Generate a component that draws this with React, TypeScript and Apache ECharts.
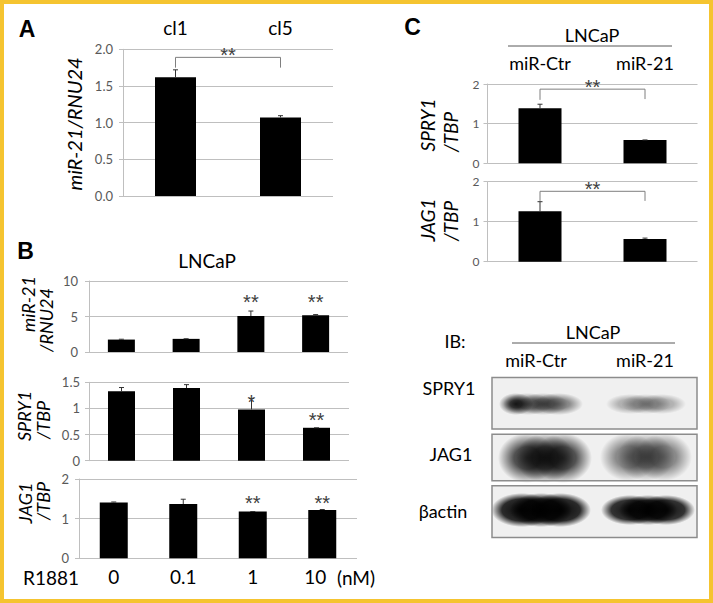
import React, { useEffect, useRef } from "react";
import * as echarts from "echarts";

// ---------- data ----------
const aCategories = ["cl1", "cl5"];
const aValues = [1.62, 1.07];
const aErrors = [0.1, 0.025];
const aBracket = [1.75, 1.89, 1.75]; // left leg end, bar height, right leg end

const bCategories = ["0", "0.1", "1", "10"];
const bMir21 = [1.75, 1.85, 5.07, 5.17];
const bMir21Err = [0.05, 0.02, 0.7, 0.1];
const bMir21Sig = ["", "", "**", "**"];
const bMir21SigAt = [0, 0, 7.8, 7.8];

const bSpry1 = [1.33, 1.39, 0.98, 0.63];
const bSpry1Err = [0.07, 0.065, 0.21, 0.0];
const bSpry1Sig = ["", "", "*", "**"];
const bSpry1SigAt = [0, 0, 1.22, 0.87];

const bJag1 = [1.41, 1.37, 1.18, 1.22];
const bJag1Err = [0.01, 0.12, 0.0, 0.01];
const bJag1Sig = ["", "", "**", "**"];
const bJag1SigAt = [0, 0, 1.53, 1.53];

const cCategories = ["miR-Ctr", "miR-21"];
const cSpry1 = [1.39, 0.59];
const cSpry1Err = [0.1, 0.0];
const cSpry1Bracket = [1.6, 1.87, 1.62];
const cJag1 = [1.26, 0.57];
const cJag1Err = [0.24, 0.02];
const cJag1Bracket = [1.52, 1.76, 1.52];

// ---------- styling ----------
const FONT = 'Lato, "Open Sans", sans-serif';
const BOLD_FONT = '"Liberation Sans", Arial, sans-serif';
const STAR_FONT = '"Liberation Sans", Arial, sans-serif';
const GRID_GRAY = "#bfbfbf";
const TICK_LABEL = "#595959";

function yAxis(gridIndex: number, max: number, interval: number, fontSize: number, margin: number, fmt?: (v: number) => string) {
  return {
    type: "value",
    gridIndex,
    min: 0,
    max,
    interval,
    axisLine: { show: true, lineStyle: { color: GRID_GRAY, width: 1 } },
    axisTick: { show: true, length: 4, lineStyle: { color: GRID_GRAY } },
    splitLine: { show: true, lineStyle: { color: GRID_GRAY, width: 1 } },
    axisLabel: { fontSize, color: TICK_LABEL, fontFamily: FONT, margin, formatter: fmt },
  };
}

function xAxis(gridIndex: number, data: string[], label?: any) {
  return {
    type: "category",
    gridIndex,
    data,
    position: label ? label.position : "bottom",
    axisLine: { show: false },
    axisTick: { show: false },
    splitLine: { show: false },
    axisLabel: label
      ? {
          show: true,
          fontSize: label.fontSize,
          color: "#000",
          fontFamily: FONT,
          margin: label.margin,
          interval: 0,
          formatter: label.formatter,
          rich: label.rich,
        }
      : { show: false },
  };
}

function bars(idx: number, data: number[], barWidth: number) {
  return {
    type: "bar",
    xAxisIndex: idx,
    yAxisIndex: idx,
    data,
    barWidth,
    itemStyle: { color: "#000" },
    z: 2,
  };
}

function errorBars(idx: number, values: number[], errors: number[]) {
  return {
    type: "custom",
    xAxisIndex: idx,
    yAxisIndex: idx,
    z: 3,
    data: values.map((v, i) => [i, v, v + errors[i]]),
    renderItem: (_p: any, api: any) => {
      const lo = api.coord([api.value(0), api.value(1)]);
      const hi = api.coord([api.value(0), api.value(2)]);
      return {
        type: "group",
        children: [
          { type: "line", shape: { x1: lo[0], y1: lo[1], x2: hi[0], y2: hi[1] }, style: { stroke: "#333", lineWidth: 1 } },
          { type: "line", shape: { x1: hi[0] - 2.5, y1: hi[1], x2: hi[0] + 2.5, y2: hi[1] }, style: { stroke: "#333", lineWidth: 1 } },
        ],
      };
    },
  };
}

const SIG_SHIFT = 5;
const STAR_SIZE = 20;

function starText(text: string, x: number, y: number) {
  return {
    type: "text",
    x,
    y,
    style: {
      text,
      fill: "#404040",
      fontSize: STAR_SIZE,
      fontFamily: STAR_FONT,
      align: "center",
      verticalAlign: "middle",
      textAlign: "center",
      textVerticalAlign: "middle",
    },
  };
}

function sigMarks(idx: number, labels: string[], at: number[]) {
  const pts = labels.map((s, i) => ({ s, i })).filter((p) => p.s);
  return {
    type: "custom",
    xAxisIndex: idx,
    yAxisIndex: idx,
    z: 4,
    data: pts.map((p) => [p.i, at[p.i]]),
    renderItem: (params: any, api: any) => {
      const c = api.coord([api.value(0), api.value(1)]);
      return starText(pts[params.dataIndex].s, c[0], c[1] + SIG_SHIFT);
    },
  };
}

function bracket(idx: number, b: number[]) {
  return {
    type: "custom",
    xAxisIndex: idx,
    yAxisIndex: idx,
    z: 4,
    data: [[0, b[0], b[1], b[2]]],
    renderItem: (_p: any, api: any) => {
      const l = api.coord([0, api.value(1)]);
      const tl = api.coord([0, api.value(2)]);
      const tr = api.coord([1, api.value(2)]);
      const r = api.coord([1, api.value(3)]);
      return {
        type: "group",
        children: [
          {
            type: "polyline",
            shape: { points: [l, tl, tr, r] },
            style: { stroke: "#7f7f7f", lineWidth: 1, fill: "none" },
          },
          starText("**", (tl[0] + tr[0]) / 2, tl[1] - 7 + SIG_SHIFT),
        ],
      };
    },
  };
}

function txt(text: string, x: number, y: number, size: number, o: { rot?: boolean; italic?: boolean; bold?: boolean; color?: string } = {}) {
  return {
    type: "text",
    x,
    y,
    rotation: o.rot ? Math.PI / 2 : 0,
    style: {
      text,
      fill: o.color || "#000",
      fontSize: size,
      fontFamily: o.bold ? BOLD_FONT : FONT,
      fontStyle: o.italic ? "italic" : "normal",
      fontWeight: o.bold ? "bold" : "normal",
      align: "center",
      verticalAlign: "middle",
      textAlign: "center",
      textVerticalAlign: "middle",
    },
  };
}

function hline(x1: number, x2: number, y: number, color = "#595959") {
  return { type: "line", shape: { x1, y1: y, x2, y2: y }, style: { stroke: color, lineWidth: 1 } };
}

function band(cx: number, cy: number, rx: number, ry: number, a: number, core = 0.5) {
  return {
    type: "ellipse",
    shape: { cx, cy, rx, ry },
    style: {
      fill: new echarts.graphic.RadialGradient(0.5, 0.5, 0.5, [
        { offset: 0, color: `rgba(0,0,0,${a})` },
        { offset: core, color: `rgba(0,0,0,${a * 0.85})` },
        { offset: 1, color: "rgba(0,0,0,0)" },
      ]),
    },
  };
}

// a flatter band made of three overlapping soft ellipses
function flatBand(cx: number, cy: number, halfW: number, ry: number, a: number, core = 0.5) {
  const rx = halfW * 0.62;
  const off = halfW - rx;
  return [band(cx - off, cy, rx, ry, a, core), band(cx, cy, rx, ry, a, core), band(cx + off, cy, rx, ry, a, core)];
}

function blotBox(y: number, h: number, stroke: boolean) {
  return {
    type: "rect",
    shape: { x: 492, y, width: 205, height: h },
    style: stroke ? { fill: "none", stroke: "#8c8c8c", lineWidth: 1.5 } : { fill: "#f0f0f0" },
  };
}

export default function App() {
  const ref = useRef<HTMLDivElement>(null);

  useEffect(() => {
    if (!ref.current) return;
    const chart = echarts.init(ref.current, undefined, { renderer: "svg", width: 713, height: 603 });

    const option: any = {
      animation: false,
      backgroundColor: "#fff",
      grid: [
        { left: 123, top: 49.3, width: 210, height: 146.7 }, // A
        { left: 89, top: 281, width: 259, height: 71 }, // B1
        { left: 89, top: 382.3, width: 260, height: 78.4 }, // B2
        { left: 79, top: 479, width: 278, height: 79.3 }, // B3
        { left: 487.5, top: 84, width: 210, height: 79.3 }, // C1
        { left: 487.5, top: 181.7, width: 210, height: 80 }, // C2
      ],
      xAxis: [
        xAxis(0, aCategories, { position: "top", fontSize: 19, margin: 12 }),
        xAxis(1, bCategories),
        xAxis(2, bCategories),
        xAxis(3, bCategories, {
          position: "bottom",
          fontSize: 19,
          margin: 9,
          formatter: (v: string, i: number) => (i === bCategories.length - 1 ? `{s|${v}}` : v),
          rich: { s: { fontSize: 19, fontFamily: FONT, color: "#000", padding: [0, 14, 0, 0] } },
        }),
        xAxis(4, cCategories, { position: "top", fontSize: 18, margin: 12 }),
        xAxis(5, cCategories),
      ],
      yAxis: [
        yAxis(0, 2, 0.5, 13, 10, (v: number) => v.toFixed(1)),
        yAxis(1, 10, 5, 13, 11),
        yAxis(2, 1.5, 0.5, 13, 9),
        yAxis(3, 2, 1, 13, 10),
        yAxis(4, 2, 1, 12, 8),
        yAxis(5, 2, 1, 12, 8),
      ],
      series: [
        bars(0, aValues, 41),
        errorBars(0, aValues, aErrors),
        bracket(0, aBracket),

        bars(1, bMir21, 27),
        errorBars(1, bMir21, bMir21Err),
        sigMarks(1, bMir21Sig, bMir21SigAt),

        bars(2, bSpry1, 27),
        errorBars(2, bSpry1, bSpry1Err),
        sigMarks(2, bSpry1Sig, bSpry1SigAt),

        bars(3, bJag1, 28),
        errorBars(3, bJag1, bJag1Err),
        sigMarks(3, bJag1Sig, bJag1SigAt),

        bars(4, cSpry1, 43),
        errorBars(4, cSpry1, cSpry1Err),
        bracket(4, cSpry1Bracket),

        bars(5, cJag1, 43),
        errorBars(5, cJag1, cJag1Err),
        bracket(5, cJag1Bracket),
      ],
      graphic: [
        // frame
        { type: "rect", shape: { x: 2, y: 2, width: 709, height: 599 }, style: { fill: "none", stroke: "#F5C430", lineWidth: 4 }, z: 10 },
        // panel letters
        txt("A", 27, 29, 23, { bold: true }),
        txt("B", 25.5, 251, 23, { bold: true }),
        txt("C", 412.5, 27, 23, { bold: true }),
        // A title
        txt("miR-21/RNU24", 74, 124, 20, { rot: true, italic: true }),
        // B titles
        txt("LNCaP", 207, 260, 19),
        txt("miR-21", 28, 304, 18, { rot: true, italic: true }),
        txt("/RNU24", 46, 320, 18, { rot: true, italic: true }),
        txt("SPRY1", 24, 416, 18, { rot: true, italic: true }),
        txt("/TBP", 43, 420, 18, { rot: true, italic: true }),
        txt("JAG1", 25, 503, 18, { rot: true, italic: true }),
        txt("/TBP", 43, 501, 18, { rot: true, italic: true }),
        txt("R1881", 51, 577.5, 19),
        txt("(nM)", 356, 577.5, 19),
        // C titles
        txt("LNCaP", 592, 35, 18),
        hline(508, 672, 46),
        txt("SPRY1", 427, 125, 19, { rot: true, italic: true }),
        txt("/TBP", 450, 132, 19, { rot: true, italic: true }),
        txt("JAG1", 427, 220, 19, { rot: true, italic: true }),
        txt("/TBP", 450, 221, 19, { rot: true, italic: true }),
        // blot header
        txt("IB:", 455, 341, 18),
        txt("LNCaP", 593, 332, 18),
        hline(512, 675, 343),
        txt("miR-Ctr", 536, 360, 18),
        txt("miR-21", 645, 360, 18),
        txt("SPRY1", 449, 387.5, 18),
        txt("JAG1", 451, 454, 18),
        txt("βactin", 443, 511, 18),
        // blot boxes
        blotBox(377.5, 51.5, false),
        blotBox(434.3, 46.4, false),
        blotBox(485.7, 51.8, false),
        // SPRY1 bands
        ...flatBand(543, 404, 40, 11, 0.5, 0.45),
        band(516, 404, 17, 11, 0.85, 0.35),
        ...flatBand(646, 404, 40, 10, 0.3, 0.5),
        // JAG1 bands
        ...flatBand(545, 458, 47, 25, 0.78, 0.45),
        ...flatBand(646, 457, 46, 24, 0.5, 0.45),
        // beta actin bands
        ...flatBand(541, 510, 50, 17, 0.97, 0.65),
        ...flatBand(648, 510, 47, 15, 0.93, 0.65),
        // box outlines
        blotBox(377.5, 51.5, true),
        blotBox(434.3, 46.4, true),
        blotBox(485.7, 51.8, true),
      ],
    };

    chart.setOption(option);
    return () => chart.dispose();
  }, []);

  return <div ref={ref} style={{ position: "fixed", left: 0, top: 0, width: 713, height: 603, background: "#fff" }} />;
}
